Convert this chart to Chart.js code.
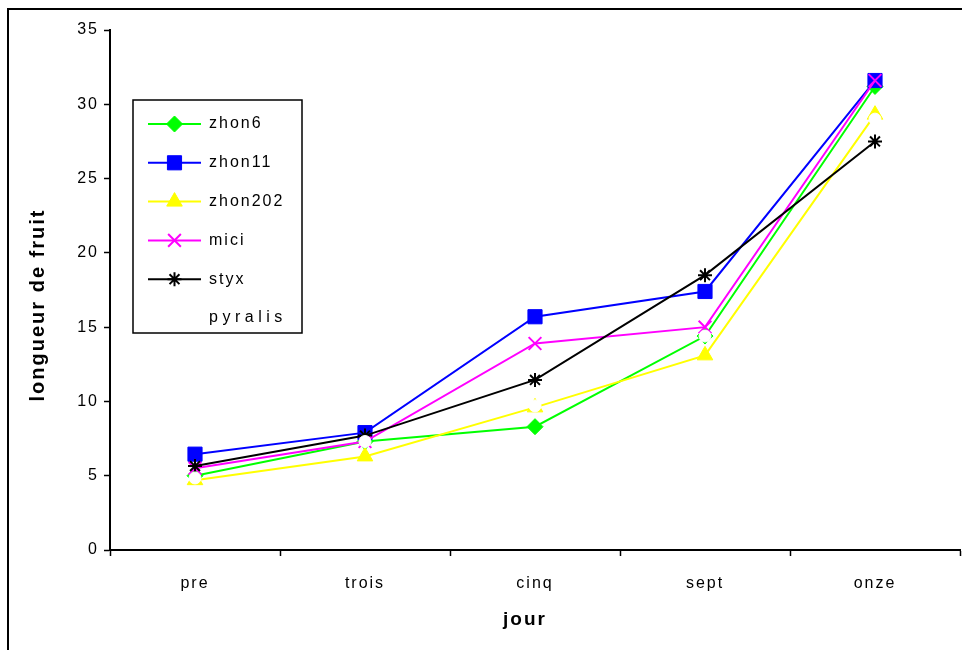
<!DOCTYPE html>
<html>
<head>
<meta charset="utf-8">
<script src="https://cdn.jsdelivr.net/npm/chart.js@4.4.0/dist/chart.umd.min.js"></script>
<style>
  html, body { margin: 0; padding: 0; background: #fff; overflow: hidden; }
  #frame { position: absolute; left: 7px; top: 8px; width: 1000px; height: 700px; border: 2px solid #000; }
  #wrap { position: absolute; left: 0; top: 0; width: 962px; height: 650px; }
</style>
</head>
<body>
<div id="frame"></div>
<div id="wrap"><canvas id="chart" width="962" height="650"></canvas></div>
<script>
var categories = ['pre', 'trois', 'cinq', 'sept', 'onze'];

var zhon6   = [5.0, 7.3, 8.3, 14.4, 31.2];
var zhon11  = [6.45, 7.9, 15.7, 17.4, 31.6];
var zhon202 = [4.7, 6.3, 9.6, 13.1, 29.3];
var mici    = [5.5, 7.3, 13.9, 15.0, 31.6];
var styx    = [5.65, 7.7, 11.45, 18.5, 27.5];
var pyralis = [4.85, 7.3, 9.7, 14.4, 29.0];

var yMax = 35;
var yStep = 5;
var xTitle = 'jour';
var yTitle = 'longueur de fruit';

var FONT = "'Liberation Sans', Arial, sans-serif";

function series(label, data, color, style, radius, order, extra) {
    var ds = {
        label: label,
        data: data,
        borderColor: color,
        backgroundColor: color,
        pointBackgroundColor: color,
        pointBorderColor: color,
        pointStyle: style,
        pointRadius: radius,
        pointBorderWidth: 1,
        borderWidth: 2,
        tension: 0,
        order: order
    };
    for (var k in extra) ds[k] = extra[k];
    return ds;
}

// the original's text is a bit spread out, so widen all chart text
var spacing = {
    id: 'spacing',
    beforeDraw: function(chart) { chart.ctx.letterSpacing = '2px'; },
    afterDraw: function(chart) { chart.ctx.letterSpacing = '0px'; }
};

// axis titles sit a little off-centre in the original
var axisTitles = {
    id: 'axisTitles',
    afterDraw: function(chart) {
        var ctx = chart.ctx;
        ctx.save();
        ctx.fillStyle = '#000';
        ctx.letterSpacing = '2px';
        ctx.font = 'bold 19px ' + FONT;
        ctx.textAlign = 'center';
        ctx.textBaseline = 'middle';
        ctx.fillText(xTitle, 525, 620);
        ctx.translate(38, 305);
        ctx.rotate(-Math.PI / 2);
        ctx.font = 'bold 20px ' + FONT;
        ctx.fillText(yTitle, 0, 0);
        ctx.restore();
    }
};

// legend box drawn inside the plot, like the original
var boxLegend = {
    id: 'boxLegend',
    afterDatasetsDraw: function(chart) {
        var ctx = chart.ctx;
        var left = 133, top = 100, right = 302, bottom = 333;
        ctx.save();
        ctx.fillStyle = '#fff';
        ctx.fillRect(left, top, right - left, bottom - top);
        ctx.strokeStyle = '#000';
        ctx.lineWidth = 1.5;
        ctx.strokeRect(left, top, right - left, bottom - top);
        ctx.font = '16px ' + FONT;
        ctx.textBaseline = 'middle';
        chart.data.datasets.forEach(function(ds, i) {
            var y = 124 + i * 38.8;
            ctx.strokeStyle = ds.borderColor;
            ctx.lineWidth = 2;
            if (ds.borderColor !== '#FFFFFF') {
                ctx.beginPath();
                ctx.moveTo(148, y);
                ctx.lineTo(201, y);
                ctx.stroke();
            }
            ctx.fillStyle = ds.pointBackgroundColor;
            ctx.strokeStyle = ds.pointBorderColor;
            ctx.lineWidth = ds.pointBorderWidth;
            Chart.helpers.drawPoint(ctx, {
                pointStyle: ds.pointStyle,
                radius: ds.pointRadius,
                rotation: 0,
                borderWidth: ds.pointBorderWidth
            }, 174.5, y);
            ctx.fillStyle = '#000';
            ctx.letterSpacing = ds.label === 'pyralis' ? '4.5px' : '2px';
            ctx.fillText(ds.label, 209, y);
        });
        ctx.restore();
    }
};

new Chart(document.getElementById('chart').getContext('2d'), {
    type: 'line',
    data: {
        labels: categories,
        datasets: [
            series('zhon6', zhon6, '#00FF00', 'rectRot', 8, 6, {}),
            series('zhon11', zhon11, '#0000FF', 'rect', 10, 5, {}),
            series('zhon202', zhon202, '#FFFF00', 'triangle', 9, 4, {}),
            series('mici', mici, '#FF00FF', 'crossRot', 9, 3, { pointBorderWidth: 2 }),
            series('styx', styx, '#000000', 'star', 7, 2, { pointBorderWidth: 2 }),
            series('pyralis', pyralis, '#FFFFFF', 'circle', 6, 1, { showLine: false })
        ]
    },
    options: {
        responsive: false,
        animation: false,
        events: [],
        layout: { autoPadding: false, padding: { top: 30, right: 2, left: 0, bottom: 0 } },
        plugins: {
            legend: { display: false },
            tooltip: { enabled: false }
        },
        scales: {
            x: {
                offset: true,
                afterFit: function(scale) {
                    scale.height = 100;
                    scale.paddingLeft = 0;
                    scale.paddingRight = 0;
                },
                grid: {
                    offset: true,
                    drawOnChartArea: false,
                    tickLength: 6,
                    tickWidth: 1.5,
                    tickColor: '#000'
                },
                border: { color: '#000', width: 2 },
                ticks: {
                    color: '#000',
                    padding: 18,
                    maxRotation: 0,
                    font: { family: FONT, size: 16 }
                }
            },
            y: {
                min: 0,
                max: yMax,
                afterFit: function(scale) { scale.width = 110; },
                grid: {
                    drawOnChartArea: false,
                    tickLength: 6,
                    tickWidth: 1.5,
                    tickColor: '#000'
                },
                border: { color: '#000', width: 2 },
                ticks: {
                    stepSize: yStep,
                    color: '#000',
                    padding: 5,
                    font: { family: FONT, size: 16 }
                }
            }
        }
    },
    plugins: [spacing, boxLegend, axisTitles]
});
</script>
</body>
</html>
